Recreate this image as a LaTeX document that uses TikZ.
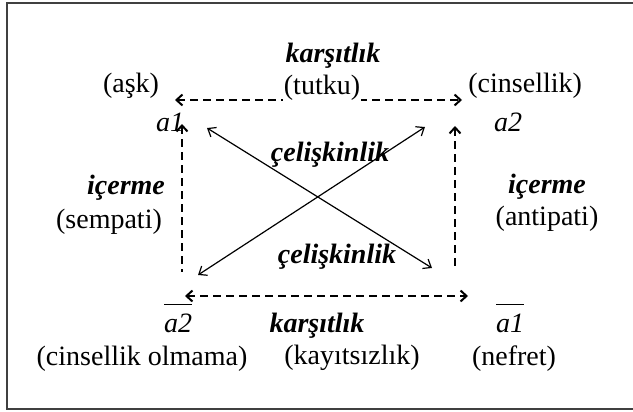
\documentclass[tikz,border=0pt]{standalone}
\usepackage{fontspec}
\setmainfont{Liberation Serif}
\usetikzlibrary{arrows.meta,positioning}
\tikzset{
  lbl/.style={font=\fontsize{14}{16}\selectfont, inner sep=1pt},
  rel/.style={font=\fontsize{14}{16}\selectfont\bfseries\itshape, inner sep=1pt},
  sym/.style={font=\fontsize{14}{16}\selectfont\itshape, inner sep=1pt},
  barb/.tip={Straight Barb[length=3pt,width=5.5pt,line width=1pt]},
  dashline/.style={line width=1pt, dash pattern=on 4pt off 2.5pt},
  diag/.style={line width=0.6pt, {Straight Barb[length=3.5pt,width=5.5pt]}-{Straight Barb[length=3.5pt,width=5.5pt]}}
}
\newcommand{\negsym}[1]{$\overline{\mbox{\itshape #1}\rule{0pt}{12.5pt}}$}
\begin{document}
\begin{tikzpicture}[x=0.5pt,y=-0.5pt]
    \useasboundingbox (0,0) rectangle (633,412);
    \draw[line width=1.1pt, black!75] (7,3) rectangle (645,409);
    % corners of the square
    \coordinate (tl) at (175,100);
    \coordinate (tr) at (462,100);
    \coordinate (bl) at (185,296);
    \coordinate (br) at (468,296);
    \coordinate (lu) at (182,124);
    \coordinate (ld) at (182,272);
    \coordinate (ru) at (455,126);
    \coordinate (rd) at (455,270);
    \coordinate (d1a) at (207,128);
    \coordinate (d1b) at (432,268);
    \coordinate (d2a) at (425,127);
    \coordinate (d2b) at (198,275);
    % relations
    \draw[dashline, barb-barb] (tl) -- (tr);
    \draw[dashline, barb-barb] (bl) -- (br);
    \draw[dashline, barb-] (lu) -- (ld);
    \draw[dashline, barb-] (ru) -- (rd);
    \draw[diag] (d1a) -- (d1b);
    \draw[diag] (d2a) -- (d2b);
    % top
    \node[rel] (kar1) at (333,56) {karşıtlık};
    \node[lbl] (ask) at (131,86) {(aşk)};
    \node[lbl, fill=white, inner sep=0.5pt] (tutku) at (322,88) {(tutku)};
    \node[lbl, anchor=west] (cins) at (466,86) {(cinsellik)};
    \node[sym] (a1) at (170,122) {a1};
    \node[sym] (a2) at (508,122) {a2};
    % sides
    \node[rel] (ic1) at (126,188) {içerme};
    \node[lbl] (semp) at (109,222) {(sempati)};
    \node[rel] (ic2) at (547,187) {içerme};
    \node[lbl] (anti) at (547,219) {(antipati)};
    % middle
    \node[rel] (cel1) at (330,155) {çelişkinlik};
    \node[rel] (cel2) at (337,257) {çelişkinlik};
    % bottom
    \node[sym, anchor=base] (na2) at (178,332) {\negsym{a2}};
    \node[rel] (kar2) at (317,326) {karşıtlık};
    \node[sym, anchor=base] (na1) at (510,332) {\negsym{a1}};
    \node[lbl] (olm) at (142,359) {(cinsellik olmama)};
    \node[lbl] (kay) at (352,358) {(kayıtsızlık)};
    \node[lbl] (nef) at (514,359) {(nefret)};
\end{tikzpicture}
\end{document}
